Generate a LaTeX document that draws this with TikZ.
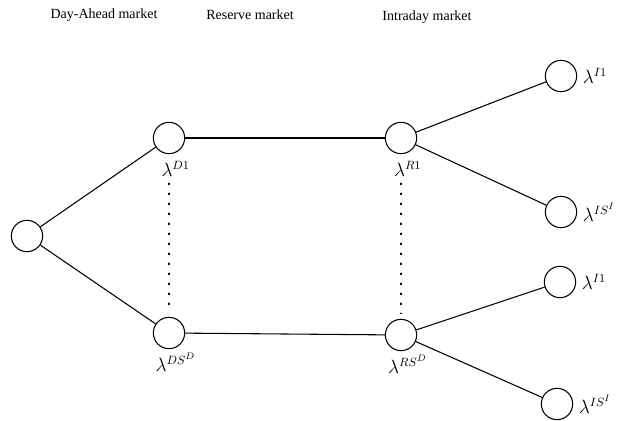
\documentclass[tikz,border=0pt]{standalone}
\usepackage{amsmath}
\usepackage{fontspec}
\setmainfont{Liberation Serif}
\usepackage{tikz}
\usetikzlibrary{positioning}

\begin{document}
\begin{tikzpicture}[
  x=0.75pt, y=-0.75pt,
  state/.style={circle, draw, thick, minimum size=23.5pt, inner sep=0pt},
  lab/.style={inner sep=1pt, font=\fontsize{13.5}{15}\selectfont},
  head/.style={font=\fontsize{10.5}{12}\selectfont},
  edge/.style={thick},
  dotline/.style={line width=1pt, dash pattern=on 1pt off 6.5pt, line cap=round}
]
\useasboundingbox (0,0) rectangle (626,421);

% Market headers
\node[head] (dahead) at (104,15) {Day-Ahead market};
\node[head] (reshead) at (250,15) {Reserve market};
\node[head] (idhead) at (427,17) {Intraday market};

% Tree nodes
\node[state] (root) at (27,236) {};
\node[state] (d1) at (169,138) {};
\node[state] (dsd) at (169,333) {};
\node[state] (r1) at (401,138) {};
\node[state] (rsd) at (401,335) {};
\node[state] (i1a) at (561,76) {};
\node[state] (isa) at (561,212) {};
\node[state] (i1b) at (560,282) {};
\node[state] (isb) at (557,404) {};

% Labels
\node[lab, below=4pt of d1, xshift=5pt] (d1lab) {$\lambda^{D1}$};
\node[lab, below=2pt of dsd, xshift=5pt] (dsdlab) {$\lambda^{DS^D}$};
\node[lab, below=4pt of r1, xshift=5pt] (r1lab) {$\lambda^{R1}$};
\node[lab, below=2pt of rsd, xshift=5pt] (rsdlab) {$\lambda^{RS^D}$};
\node[lab, right=3pt of i1a] (i1alab) {$\lambda^{I1}$};
\node[lab, right=3pt of isa] (isalab) {$\lambda^{IS^I}$};
\node[lab, right=3pt of i1b] (i1blab) {$\lambda^{I1}$};
\node[lab, right=3pt of isb] (isblab) {$\lambda^{IS^I}$};

% Branches
\draw[edge] (root) -- (d1);
\draw[edge] (root) -- (dsd);
\draw[edge] (d1) -- (r1);
\draw[edge] (dsd) -- (rsd);
\draw[edge] (r1) -- (i1a);
\draw[edge] (r1) -- (isa);
\draw[edge] (rsd) -- (i1b);
\draw[edge] (rsd) -- (isb);

% Scenario dots
\draw[dotline] ([yshift=-4pt]d1lab.south -| d1) -- ([yshift=4pt]dsd.north);
\draw[dotline] ([yshift=-4pt]r1lab.south -| r1) -- ([yshift=4pt]rsd.north);

\end{tikzpicture}
\end{document}
